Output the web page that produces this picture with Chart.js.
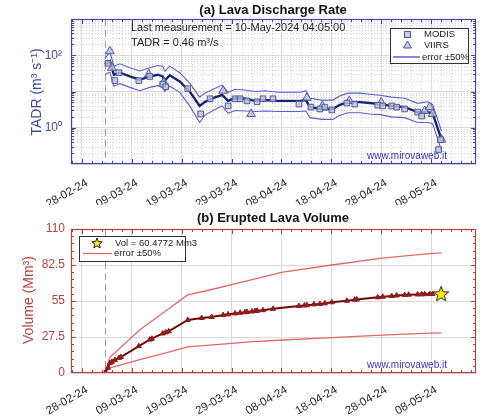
<!DOCTYPE html>
<html>
<head>
<meta charset="utf-8">
<script src="https://cdn.jsdelivr.net/npm/chart.js@4.4.1/dist/chart.umd.min.js"></script>
<style>
  html, body { margin: 0; padding: 0; background: #fff; width: 489px; height: 418px; overflow: hidden; }
  canvas { position: absolute; left: 0; }
  #topChart { top: 0; }
  #botChart { top: 205px; }
</style>
</head>
<body>
<canvas id="topChart" width="489" height="205"></canvas>
<canvas id="botChart" width="489" height="213"></canvas>
<script>
// Days are counted from 28-02-24
const tickDays = [0, 10, 20, 30, 40, 50, 60, 70];
const tickLabels = ["28-02-24", "09-03-24", "19-03-24", "29-03-24", "08-04-24", "18-04-24", "28-04-24", "08-05-24"];
const onsetDay = 4.6;

// (a) lava discharge rate, m3/s
const rateDays  = [4.6, 5.6, 6.4, 7.6, 9.6, 11.6, 13.6, 15.2, 16.2, 16.6, 17.6, 19.6, 21.6, 23.6, 24.6, 26.3, 28.1, 29.3, 30.7, 32.7, 34.7, 36.7, 39.3, 41.7, 43.7, 44.9, 45.7, 48.1, 50.3, 51.7, 53.3, 55.7, 57.7, 59.7, 62.1, 64.7, 67.3, 69.3, 70.3, 72.1];
const rateMain  = [56, 68, 29, 33, 26, 21, 26, 29, 26, 20, 28, 19, 10, 4.0, 5.1, 6.6, 8.1, 5.5, 6.6, 6.3, 5.5, 5.8, 5.5, 5.5, 5.5, 5.8, 3.7, 3.3, 3.3, 4.3, 5.1, 5.1, 4.8, 4.5, 4.0, 3.7, 2.7, 2.7, 2.5, 0.46];
const rateUpper = [80, 125, 50, 58, 45, 37, 45, 52, 50, 36, 50, 33, 17, 7.0, 9.0, 11.5, 15, 9.5, 11.5, 11, 10, 10.5, 9.5, 9.5, 9.5, 10.5, 6.5, 5.8, 5.8, 7.5, 9.0, 9.0, 8.4, 7.9, 7.0, 6.5, 4.7, 5.2, 4.4, 0.8];
const rateLower = [30, 34, 14, 16.5, 13, 10.5, 13, 14.5, 13, 10, 14, 9.5, 4.0, 1.4, 2.2, 3.0, 4.0, 2.5, 3.0, 2.9, 2.8, 2.9, 2.8, 2.8, 2.8, 2.9, 1.9, 1.7, 1.7, 2.2, 2.6, 2.6, 2.4, 2.3, 2.0, 1.9, 1.4, 1.4, 1.3, 0.23];

const modisDays = [5.2, 6.6, 7.4, 11.4, 13.6, 16.2, 16.8, 21.2, 23.8, 25.7, 29.3, 30.7, 31.7, 33.1, 35.1, 36.3, 38.3, 43.5, 45.9, 47.7, 48.7, 50.1, 53.1, 54.7, 59.3, 60.3, 62.1, 63.1, 64.7, 67.3, 68.1, 71.5, 71.9];
const modisVals = [60, 20, 33, 20, 26, 16, 13.5, 12, 2.4, 6.3, 4.0, 6.3, 6.3, 5.5, 5.2, 6.3, 6.3, 4.5, 3.7, 3.3, 3.7, 3.1, 4.8, 4.5, 4.2, 4.0, 4.0, 3.7, 3.3, 2.7, 2.1, 0.25, 0.47];
const viirsDays = [5.6, 6.0, 13.4, 16.4, 28.3, 33.9, 45.1, 48.2, 53.6, 60.0, 68.7, 69.7, 70.3, 72.1];
const viirsVals = [129, 45, 30, 18, 10.5, 2.4, 6.7, 4.0, 5.5, 5.0, 2.9, 3.7, 2.4, 0.47];

// (b) erupted lava volume, Mm3
const volDays = [4.6, 5.2, 5.6, 6.0, 6.6, 7.4, 7.8, 11.4, 13.6, 14.0, 16.2, 16.8, 17.4, 21.2, 24.0, 26.0, 28.3, 29.3, 30.7, 31.7, 32.7, 33.1, 34.1, 34.7, 35.1, 36.3, 38.3, 43.5, 44.6, 45.1, 46.5, 47.7, 48.7, 50.1, 53.1, 54.7, 55.1, 59.3, 60.3, 62.1, 63.1, 64.7, 65.5, 67.3, 68.1, 68.7, 69.7, 70.3];
const volVals = [0, 4, 7.6, 8.5, 9.9, 11.5, 12.2, 20.5, 25.5, 26.2, 30.2, 31, 31.8, 40.5, 42, 42.8, 44.3, 44.8, 45.5, 46, 46.4, 46.6, 47, 47.3, 47.5, 48, 49, 51.2, 51.6, 51.8, 52.4, 52.8, 53.2, 54, 55.2, 56, 56.2, 57.8, 58.2, 58.8, 59.2, 59.6, 59.8, 60.0, 60.1, 60.2, 60.3, 60.4];
const volUpDays = [4.6, 5.6, 11.6, 17.0, 21.2, 25.6, 33.7, 40.3, 50.1, 60.1, 69.7, 72.1];
const volUpVals = [0, 12, 33, 48, 59.6, 63.4, 71, 77, 82.5, 87.8, 91.2, 91.7];
const volLowDays = [4.6, 5.6, 11.6, 17.0, 21.2, 25.6, 33.7, 40.3, 50.1, 60.1, 69.7, 72.1];
const volLowVals = [0, 4, 10.3, 15.5, 20, 21.3, 23.7, 25.2, 27, 29, 30.4, 30.6];
const lastVolDay = 72.0;
const lastVol = 60.4772;

const FONT = "'Liberation Sans', Arial, Helvetica, sans-serif";
Chart.defaults.font.family = FONT;
const axisBlue = "#3e4a9e";
const axisRed = "#b2443f";

const zip = (xs, ys) => xs.map((x, i) => ({ x, y: ys[i] }));

function makeStar(size) {
  const c = document.createElement("canvas");
  c.width = c.height = size;
  const g = c.getContext("2d");
  drawStar(g, size / 2, size / 2 + 0.5, size / 2 - 1);
  return c;
}
function drawStar(g, cx, cy, r) {
  g.beginPath();
  for (let i = 0; i < 10; i++) {
    const rr = i % 2 ? r * 0.42 : r;
    const ang = -Math.PI / 2 + (i * Math.PI) / 5;
    g.lineTo(cx + rr * Math.cos(ang), cy + rr * Math.sin(ang));
  }
  g.closePath();
  g.fillStyle = "#fff200";
  g.fill();
  g.strokeStyle = "#222";
  g.lineWidth = 1;
  g.stroke();
}

function hline(ctx, x0, x1, y) { ctx.beginPath(); ctx.moveTo(x0, y); ctx.lineTo(x1, y); ctx.stroke(); }
function vline(ctx, x, y0, y1) { ctx.beginPath(); ctx.moveTo(x, y0); ctx.lineTo(x, y1); ctx.stroke(); }

// --- decoration plugin: minor grid, onset line, box, inward ticks, labels, legend ---
const decor = (o) => ({
  id: "decor",
  beforeDatasetsDraw(chart) {
    const { ctx, chartArea: a, scales: { x, y } } = chart;
    ctx.save();
    ctx.lineWidth = 1;
    if (o.minorGrid) {
      ctx.strokeStyle = "#d2d2d2";
      ctx.setLineDash([1, 2]);
      for (let d = -2; d <= 78; d += 2) {
        if (d % 10 === 0) continue;
        vline(ctx, Math.round(x.getPixelForValue(d)) + 0.5, a.top, a.bottom);
      }
      o.yMinor.forEach((v) => hline(ctx, a.left, a.right, Math.round(y.getPixelForValue(v)) + 0.5));
    }
    ctx.setLineDash([7, 4]);
    ctx.strokeStyle = "#a3a3a3";
    vline(ctx, Math.round(x.getPixelForValue(onsetDay)) + 0.5, a.top, a.bottom);
    ctx.restore();
  },
  afterDraw(chart) {
    const { ctx, chartArea: a, scales: { x, y } } = chart;
    ctx.save();
    // box + inward ticks
    ctx.strokeStyle = o.axisColor;
    ctx.lineWidth = 1.2;
    ctx.strokeRect(a.left + 0.5, a.top + 0.5, a.right - a.left - 1, a.bottom - a.top - 1);
    ctx.lineWidth = 1;
    for (let d = -2; d <= 78; d += 2) {
      const px = Math.round(x.getPixelForValue(d)) + 0.5;
      const len = d % 10 === 0 ? 5 : 3;
      vline(ctx, px, a.bottom, a.bottom - len);
      vline(ctx, px, a.top, a.top + len);
    }
    o.yMajor.forEach((v) => {
      const py = Math.round(y.getPixelForValue(v)) + 0.5;
      hline(ctx, a.left, a.left + 5, py);
      hline(ctx, a.right, a.right - 5, py);
    });
    o.yMinor.forEach((v) => {
      const py = Math.round(y.getPixelForValue(v)) + 0.5;
      hline(ctx, a.left, a.left + 3, py);
      hline(ctx, a.right, a.right - 3, py);
    });
    // x tick labels, rotated
    ctx.fillStyle = "#262626";
    ctx.font = "11.5px " + FONT;
    ctx.textAlign = "right";
    ctx.textBaseline = "middle";
    tickDays.forEach((d, i) => {
      ctx.save();
      ctx.translate(x.getPixelForValue(d) + 5, a.bottom + o.xLabelDy);
      ctx.rotate(-Math.PI / 6);
      ctx.fillText(tickLabels[i], 0, 0);
      ctx.restore();
    });
    // title
    ctx.fillStyle = "#111";
    ctx.font = "bold 13px " + FONT;
    ctx.textAlign = "center";
    ctx.fillText(o.title, 273, o.titleY);
    // y title
    ctx.save();
    ctx.translate(o.yTitleX, o.yTitleY);
    ctx.rotate(-Math.PI / 2);
    ctx.fillStyle = o.axisColor;
    ctx.font = "14px " + FONT;
    ctx.fillText(o.yTitle, 0, 0);
    ctx.restore();
    // watermark
    ctx.fillStyle = "#3434c8";
    ctx.font = "10px " + FONT;
    ctx.textAlign = "right";
    ctx.fillText("www.mirovaweb.it", 447, a.bottom - 8);
    if (o.extra) o.extra(ctx, a);
    ctx.restore();
  },
});

const logMinor = [];
[0.1, 1, 10, 100].forEach((dec) => { for (let m = 2; m <= 9; m++) logMinor.push(dec * m); });
const linMinor = [];
for (let v = 5.5; v < 110; v += 5.5) if (Math.abs(v / 27.5 - Math.round(v / 27.5)) > 1e-6) linMinor.push(v);

const xScale = (height) => ({
  type: "linear",
  min: -2.2,
  max: 79,
  afterBuildTicks: (s) => { s.ticks = tickDays.map((v) => ({ value: v })); },
  afterFit: (s) => { s.height = height; },
  ticks: { display: false },
  grid: { color: "#dadada", drawTicks: false },
  border: { display: false },
});

// ---------------- (a) TADR ----------------
new Chart(document.getElementById("topChart"), {
  type: "line",
  data: {
    datasets: [
      {
        label: "MODIS", data: zip(modisDays, modisVals), showLine: false, order: 0,
        pointStyle: "rect", pointRadius: 4, borderWidth: 1,
        pointBackgroundColor: "rgba(185,190,222,0.8)", pointBorderColor: "#515b98",
      },
      {
        label: "VIIRS", data: zip(viirsDays, viirsVals), showLine: false, order: 0,
        pointStyle: "triangle", pointRadius: 5, borderWidth: 1,
        pointBackgroundColor: "rgba(185,190,222,0.8)", pointBorderColor: "#515b98",
      },
      { label: "TADR", data: zip(rateDays, rateMain), order: 1, borderColor: "#1b2370", borderWidth: 2.4, pointRadius: 0, tension: 0 },
      { label: "upper", data: zip(rateDays, rateUpper), order: 2, borderColor: "#5a5fd2", borderWidth: 1.1, pointRadius: 0 },
      { label: "lower", data: zip(rateDays, rateLower), order: 2, borderColor: "#5a5fd2", borderWidth: 1.1, pointRadius: 0 },
    ],
  },
  options: {
    responsive: false,
    animation: false,
    devicePixelRatio: 1,
    layout: { padding: { top: 19, right: 13, left: 0, bottom: 0 } },
    plugins: { legend: { display: false }, tooltip: { enabled: false } },
    scales: {
      x: xScale(41),
      y: {
        type: "logarithmic",
        min: 0.1,
        max: 1000,
        afterBuildTicks: (s) => { s.ticks = [0.1, 1, 10, 100, 1000].map((v) => ({ value: v })); },
        afterFit: (s) => { s.width = 71; },
        ticks: {
          color: axisBlue,
          font: { size: 12 },
          padding: 9,
          callback: (v) => (Math.abs(v - 1) < 1e-9 ? "10⁰" : Math.abs(v - 100) < 1e-6 ? "10²" : ""),
        },
        grid: { color: "#dadada", drawTicks: false },
        border: { display: false },
      },
    },
  },
  plugins: [decor({
    minorGrid: true,
    axisColor: axisBlue,
    yMajor: [1, 10, 100],
    yMinor: logMinor,
    xLabelDy: 18,
    title: "(a) Lava Discharge Rate",
    titleY: 10,
    yTitle: "TADR (m³ s⁻¹)",
    yTitleX: 37,
    yTitleY: 92,
    extra(ctx, a) {
      ctx.fillStyle = "#222";
      ctx.font = "11px " + FONT;
      ctx.textAlign = "left";
      ctx.fillText("Last measurement = 10-May-2024 04:05:00", 131, 28);
      ctx.fillText("TADR = 0.46 m³/s", 131, 43);
      // legend
      ctx.fillStyle = "#fff";
      ctx.fillRect(390, 28, 78, 35);
      ctx.strokeStyle = "#333";
      ctx.lineWidth = 1;
      ctx.strokeRect(390.5, 28.5, 78, 35);
      ctx.fillStyle = "rgba(185,190,222,0.8)";
      ctx.strokeStyle = "#515b98";
      ctx.fillRect(404, 31, 6, 6);
      ctx.strokeRect(404.5, 31.5, 6, 6);
      ctx.beginPath();
      ctx.moveTo(407.5, 41); ctx.lineTo(411.5, 48); ctx.lineTo(403.5, 48); ctx.closePath();
      ctx.fill(); ctx.stroke();
      ctx.strokeStyle = "#5a5fd2";
      ctx.lineWidth = 1.5;
      hline(ctx, 393, 420, 57);
      ctx.fillStyle = "#222";
      ctx.font = "9.5px " + FONT;
      ctx.fillText("MODIS", 424, 34.5);
      ctx.fillText("VIIRS", 424, 45.5);
      ctx.fillText("error ±50%", 422, 57);
    },
  })],
});

// ---------------- (b) volume ----------------
const starImg = makeStar(18);
new Chart(document.getElementById("botChart"), {
  type: "line",
  data: {
    datasets: [
      { label: "Vol", data: [{ x: lastVolDay, y: lastVol }], showLine: false, order: 0, pointStyle: starImg, pointRadius: 9 },
      {
        label: "Volume", data: zip(volDays, volVals), order: 1, borderColor: "#6a0c0c", borderWidth: 2,
        pointStyle: "triangle", pointRadius: 3, pointBackgroundColor: "#921b1b", pointBorderColor: "#921b1b", pointBorderWidth: 1,
      },
      { label: "upper", data: zip(volUpDays, volUpVals), order: 2, borderColor: "#e06a6a", borderWidth: 1.3, pointRadius: 0 },
      { label: "lower", data: zip(volLowDays, volLowVals), order: 2, borderColor: "#e06a6a", borderWidth: 1.3, pointRadius: 0 },
    ],
  },
  options: {
    responsive: false,
    animation: false,
    devicePixelRatio: 1,
    layout: { padding: { top: 24, right: 13, left: 0, bottom: 0 } },
    plugins: { legend: { display: false }, tooltip: { enabled: false } },
    scales: {
      x: xScale(45),
      y: {
        type: "linear",
        min: 0,
        max: 110,
        afterBuildTicks: (s) => { s.ticks = [0, 27.5, 55, 82.5, 110].map((v) => ({ value: v })); },
        afterFit: (s) => { s.width = 71; },
        ticks: { color: axisRed, font: { size: 12 }, padding: 6, callback: (v) => String(v) },
        grid: { color: "#dadada", drawTicks: false },
        border: { display: false },
      },
    },
  },
  plugins: [decor({
    minorGrid: false,
    axisColor: axisRed,
    yMajor: [27.5, 55, 82.5],
    yMinor: linMinor,
    xLabelDy: 16,
    title: "(b) Erupted Lava Volume",
    titleY: 13,
    yTitle: "Volume (Mm³)",
    yTitleX: 29,
    yTitleY: 95,
    extra(ctx, a) {
      ctx.fillStyle = "#fff";
      ctx.fillRect(79, 31, 106, 25);
      ctx.strokeStyle = "#333";
      ctx.lineWidth = 1;
      ctx.strokeRect(79.5, 31.5, 106, 25);
      drawStar(ctx, 97, 38.5, 5.5);
      ctx.strokeStyle = "#e06a6a";
      ctx.lineWidth = 1.3;
      hline(ctx, 83, 112, 48.5);
      ctx.fillStyle = "#222";
      ctx.font = "9.5px " + FONT;
      ctx.textAlign = "left";
      ctx.textBaseline = "middle";
      ctx.fillText("Vol = 60.4772 Mm3", 115, 38.5);
      ctx.fillText("error ±50%", 114, 48.5);
    },
  })],
});
</script>
</body>
</html>
